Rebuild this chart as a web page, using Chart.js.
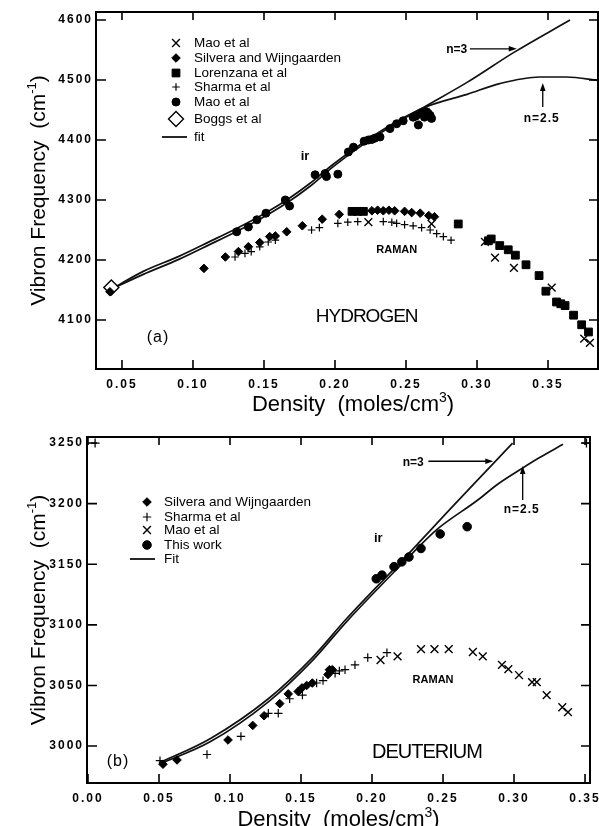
<!DOCTYPE html>
<html lang="en">
<head>
<meta charset="UTF-8">
<title>Vibron Frequency vs Density</title>
<style>
  html, body { margin: 0; padding: 0; background: #fff; overflow: hidden; }
  body { width: 599px; height: 826px; position: relative; }
  #panelA { position: absolute; left: 0; top: 0; }
  #panelB { position: absolute; left: 0; top: 430px; }
</style>
<script src="https://cdn.jsdelivr.net/npm/chart.js"></script>
</head>
<body>
<canvas id="panelA" width="599" height="430"></canvas>
<canvas id="panelB" width="599" height="410"></canvas>
<script>
// ---- panel (a) hydrogen : [density (moles/cm3), frequency (cm-1)] ----
var h2MaoRaman = [[0.2235,4263],[0.268,4260],[0.3056,4230],[0.3127,4204],[0.326,4187],[0.3526,4154],[0.3755,4069],[0.3795,4062]];
var h2Silvera = [[0.0415,4147],[0.1077,4186],[0.1228,4205],[0.132,4214],[0.139,4222],[0.147,4229],[0.154,4239],[0.158,4240],
  [0.166,4247],[0.177,4257],[0.191,4268],[0.203,4276],[0.226,4282],[0.230,4283],[0.234,4282],[0.238,4283],[0.242,4282],
  [0.249,4281],[0.254,4279],[0.260,4278],[0.266,4274],[0.270,4272]];
var h2Lorenzana = [[0.212,4281],[0.216,4281],[0.220,4281],[0.2868,4260],[0.308,4232],[0.310,4235],[0.316,4224],[0.322,4217],
  [0.327,4208],[0.3345,4192],[0.3437,4174],[0.3485,4148],[0.356,4130],[0.359,4127],[0.362,4124],[0.368,4108],[0.3737,4092],[0.3785,4080]];
var h2Sharma = [[0.1296,4205],[0.1366,4211],[0.141,4214],[0.147,4222],[0.153,4230],[0.158,4233],[0.1835,4250],[0.189,4254],
  [0.202,4261],[0.209,4263],[0.216,4264],[0.234,4264],[0.240,4263],[0.2434,4261],[0.249,4259],[0.255,4257],[0.261,4254],
  [0.267,4250],[0.2716,4244],[0.2763,4239],[0.2817,4233]];
var h2MaoIr = [[0.1308,4247],[0.139,4255],[0.145,4267],[0.1514,4278],[0.165,4300],[0.168,4290],[0.186,4342],[0.193,4344],
  [0.194,4339],[0.202,4343],[0.2094,4380],[0.213,4388],[0.2205,4398],[0.2235,4400],[0.226,4401],[0.228,4403],[0.2317,4405],
  [0.2387,4419],[0.2434,4427],[0.248,4432],[0.255,4438],[0.257,4440],[0.2587,4425],[0.261,4445],[0.263,4438],[0.2645,4447],
  [0.2657,4444],[0.267,4441],[0.268,4436]];
var h2Boggs = [[0.0425,4154]];
var h2FitN3 = [[0.043,4152],[0.065,4176],[0.090,4201],[0.112,4226],[0.131,4248],[0.147,4268],[0.166,4295],[0.182,4322],
  [0.199,4356],[0.222,4396],[0.246,4432],[0.265,4458],[0.293,4496],[0.326,4546],[0.3655,4600]];
var h2FitN25 = [[0.043,4152],[0.065,4181],[0.090,4206],[0.112,4231],[0.131,4253],[0.147,4273],[0.166,4300],[0.182,4327],
  [0.199,4360],[0.222,4399],[0.246,4434],[0.265,4456],[0.293,4476],[0.316,4494],[0.344,4505],[0.363,4505],[0.386,4499]];
var h2DensityTicks = [0.05,0.10,0.15,0.20,0.25,0.30,0.35];
var h2FreqTicks = [4100,4200,4300,4400,4500,4600];

// ---- panel (b) deuterium ----
var d2Silvera = [[0.0528,2985],[0.0627,2988.5],[0.0986,3005],[0.116,3017],[0.124,3025],[0.135,3035],[0.141,3043],[0.148,3045],
  [0.1507,3048],[0.154,3050],[0.158,3052],[0.169,3059],[0.170,3063],[0.172,3063]];
var d2Sharma = [[0.0507,2988],[0.0838,2993],[0.1077,3008],[0.127,3027],[0.134,3027],[0.142,3039],[0.151,3042],[0.161,3052],
  [0.1655,3054],[0.174,3060],[0.177,3062],[0.181,3063],[0.188,3067],[0.197,3073],[0.2105,3077]];
var d2Mao = [[0.206,3071],[0.218,3074],[0.2345,3080],[0.244,3080],[0.254,3080],[0.271,3077.6],[0.278,3074],[0.2915,3067],
  [0.296,3063.5],[0.3035,3058.6],[0.3127,3052.8],[0.316,3052.8],[0.323,3042],[0.334,3032],[0.338,3028]];
var d2ThisWork = [[0.203,3138],[0.207,3141],[0.2155,3148],[0.221,3152],[0.226,3156],[0.2345,3163],[0.248,3175],[0.267,3181]];
var d2FitN3 = [[0.05,2986],[0.086,3006],[0.127,3039],[0.158,3073],[0.182,3105],[0.2268,3160],[0.253,3193],[0.2845,3232],[0.299,3250]];
var d2FitN25 = [[0.05,2985],[0.086,3003.5],[0.127,3036.5],[0.158,3070.5],[0.182,3102.5],[0.2268,3157],[0.245,3178],[0.2745,3203],
  [0.2885,3216],[0.3056,3229],[0.318,3238],[0.3345,3249]];
var d2CornerMarks = [[0.005,3250],[0.351,3250]];
var d2DensityTicks = [0.00,0.05,0.10,0.15,0.20,0.25,0.30,0.35];
var d2FreqTicks = [3000,3050,3100,3150,3200,3250];

var FONT = "'Liberation Sans', Arial, Helvetica, sans-serif";

function pts(arr) {
  return arr.map(function(p) { return {x: p[0], y: p[1]}; });
}

function marks(label, arr, style, radius, lw, fill) {
  return {
    label: label, data: pts(arr), showLine: false, inLegend: !!label,
    pointStyle: style, pointRadius: radius, pointBorderWidth: lw,
    pointBackgroundColor: fill || '#000', pointBorderColor: '#000', order: 1
  };
}

function fitLine(label, arr) {
  return {
    label: label, data: pts(arr), showLine: true, inLegend: !!label,
    pointRadius: 0, borderColor: '#111', borderWidth: 1.7,
    cubicInterpolationMode: 'monotone', order: 10
  };
}

// legend markers, same shapes as the library's point styles
function drawMarker(ctx, style, x, y, r, lw, fill, line) {
  ctx.save();
  ctx.lineWidth = lw || 1;
  ctx.strokeStyle = '#000';
  ctx.fillStyle = fill || '#000';
  ctx.beginPath();
  if (style === 'circle') {
    ctx.arc(x, y, r, 0, Math.PI * 2);
    ctx.fill(); ctx.stroke();
  } else if (style === 'rect') {
    var s = r * Math.SQRT1_2;
    ctx.rect(x - s, y - s, 2 * s, 2 * s);
    ctx.fill(); ctx.stroke();
  } else if (style === 'rectRot') {
    ctx.moveTo(x - r, y); ctx.lineTo(x, y - r); ctx.lineTo(x + r, y); ctx.lineTo(x, y + r);
    ctx.closePath(); ctx.fill(); ctx.stroke();
  } else if (style === 'cross') {
    ctx.moveTo(x, y - r); ctx.lineTo(x, y + r); ctx.moveTo(x - r, y); ctx.lineTo(x + r, y);
    ctx.stroke();
  } else if (style === 'crossRot') {
    var d = r * Math.SQRT1_2;
    ctx.moveTo(x - d, y - d); ctx.lineTo(x + d, y + d); ctx.moveTo(x - d, y + d); ctx.lineTo(x + d, y - d);
    ctx.stroke();
  } else if (style === 'line') {
    ctx.lineWidth = 1.7;
    ctx.moveTo(x + line[0], y); ctx.lineTo(x + line[1], y);
    ctx.stroke();
  }
  ctx.restore();
}

// text with one superscript piece, centred on (cx, cy)
function drawSupText(ctx, main, sup, tail, cx, cy, size) {
  var big = size + "px " + FONT, small = Math.round(size * 0.62) + "px " + FONT;
  ctx.font = big;
  var w1 = ctx.measureText(main).width, w3 = ctx.measureText(tail).width;
  ctx.font = small;
  var w2 = ctx.measureText(sup).width;
  var x = cx - (w1 + w2 + w3) / 2, base = cy + size * 0.36;
  ctx.textAlign = 'left';
  ctx.textBaseline = 'alphabetic';
  ctx.font = big; ctx.fillText(main, x, base);
  ctx.font = small; ctx.fillText(sup, x + w1, base - size * 0.42);
  ctx.font = big; ctx.fillText(tail, x + w1 + w2, base);
}

function drawArrow(ctx, x1, y1, x2, y2) {
  var ang = Math.atan2(y2 - y1, x2 - x1), len = 8, half = 2.8;
  ctx.lineWidth = 1.3;
  ctx.beginPath();
  ctx.moveTo(x1, y1);
  ctx.lineTo(x2 - Math.cos(ang) * len * 0.8, y2 - Math.sin(ang) * len * 0.8);
  ctx.stroke();
  ctx.beginPath();
  ctx.moveTo(x2, y2);
  ctx.lineTo(x2 - Math.cos(ang) * len - Math.sin(ang) * half, y2 - Math.sin(ang) * len + Math.cos(ang) * half);
  ctx.lineTo(x2 - Math.cos(ang) * len + Math.sin(ang) * half, y2 - Math.sin(ang) * len - Math.cos(ang) * half);
  ctx.closePath();
  ctx.fill();
}

var paperPlugin = {
  id: 'paper',
  beforeDraw: function(chart) {
    chart.ctx.letterSpacing = '2px';   // wide tick numerals like the original
  },
  afterDraw: function(chart, args, opts) {
    var ctx = chart.ctx, a = chart.chartArea, xs = chart.scales.x, ys = chart.scales.y;
    ctx.save();
    ctx.letterSpacing = '0px';
    ctx.strokeStyle = '#000';
    ctx.fillStyle = '#000';

    // frame and inward ticks on all four sides
    ctx.lineWidth = 2;
    ctx.strokeRect(a.left, a.top, a.right - a.left, a.bottom - a.top);
    ctx.lineWidth = 1.6;
    ctx.beginPath();
    xs.ticks.forEach(function(t) {
      var px = xs.getPixelForValue(t.value);
      ctx.moveTo(px, a.bottom); ctx.lineTo(px, a.bottom - 9);
      ctx.moveTo(px, a.top); ctx.lineTo(px, a.top + 8);
    });
    ys.ticks.forEach(function(t) {
      var py = ys.getPixelForValue(t.value);
      ctx.moveTo(a.left, py); ctx.lineTo(a.left + 10, py);
      ctx.moveTo(a.right, py); ctx.lineTo(a.right - 9, py);
    });
    ctx.stroke();

    // axis titles
    ctx.save();
    ctx.translate(37, (a.top + a.bottom) / 2);
    ctx.rotate(-Math.PI / 2);
    drawSupText(ctx, 'Vibron Frequency  (cm', '-1', ')', 0, 0, 21);
    ctx.restore();
    drawSupText(ctx, 'Density  (moles/cm', '3', ')', (a.left + a.right) / 2 + opts.xTitleShift, opts.xTitleY, 22);

    // legend inside the plot
    var lg = opts.legend;
    ctx.font = lg.size + 'px ' + FONT;
    ctx.textAlign = 'left';
    ctx.textBaseline = 'middle';
    chart.data.datasets.filter(function(d) { return d.inLegend; }).forEach(function(d, i) {
      var x = a.left + lg.dx, y = a.top + lg.rows[i];
      if (d.showLine) drawMarker(ctx, 'line', x, y, 0, 1.7, '#000', lg.line);
      else drawMarker(ctx, d.pointStyle, x, y, d.pointRadius, d.pointBorderWidth, d.pointBackgroundColor);
      ctx.fillStyle = '#000';
      ctx.fillText(d.label, x + lg.gap, y + 0.5);
    });

    // text labels placed in data coordinates
    ctx.textAlign = 'center';
    ctx.textBaseline = 'middle';
    opts.labels.forEach(function(l) {
      ctx.font = l.font + ' ' + FONT;
      ctx.letterSpacing = (l.spacing || 0) + 'px';
      ctx.fillText(l.text, xs.getPixelForValue(l.x), ys.getPixelForValue(l.y));
    });
    ctx.letterSpacing = '0px';
    opts.arrows.forEach(function(ar) {
      drawArrow(ctx, xs.getPixelForValue(ar.from[0]), ys.getPixelForValue(ar.from[1]),
        xs.getPixelForValue(ar.to[0]), ys.getPixelForValue(ar.to[1]));
    });
    ctx.restore();
  }
};

function makeOptions(c) {
  var tickFont = {family: FONT, size: 12, weight: 'bold'};
  return {
    responsive: false,
    animation: false,
    events: [],
    layout: {padding: c.padding, autoPadding: false},
    plugins: {legend: {display: false}, tooltip: {enabled: false}, paper: c.paper},
    scales: {
      x: {
        type: 'linear', min: c.xMin, max: c.xMax,
        afterBuildTicks: function(s) { s.ticks = c.xTicks.map(function(v) { return {value: v}; }); },
        afterFit: function(s) { s.height = c.xHeight; s.paddingLeft = 0; s.paddingRight = 0; },
        grid: {display: false, drawTicks: false}, border: {display: false},
        ticks: {autoSkip: false, maxRotation: 0, padding: 8, color: '#000', font: tickFont,
          callback: function(v) { return Number(v).toFixed(2); }}
      },
      y: {
        type: 'linear', min: c.yMin, max: c.yMax,
        afterBuildTicks: function(s) { s.ticks = c.yTicks.map(function(v) { return {value: v}; }); },
        afterFit: function(s) { s.width = c.yWidth; s.paddingTop = 0; s.paddingBottom = 0; },
        grid: {display: false, drawTicks: false}, border: {display: false},
        ticks: {autoSkip: false, padding: 3, color: '#000', font: tickFont,
          callback: function(v) { return String(v); }}
      }
    }
  };
}

// (a) hydrogen
new Chart(document.getElementById('panelA'), {
  type: 'scatter',
  data: {
    datasets: [
      marks('Mao et al', h2MaoRaman, 'crossRot', 5.5, 1.4),
      marks('Silvera and Wijngaarden', h2Silvera, 'rectRot', 4.3, 1),
      marks('Lorenzana et al', h2Lorenzana, 'rect', 5.5, 1),
      marks('Sharma et al', h2Sharma, 'cross', 3.8, 1.2),
      marks('Mao et al', h2MaoIr, 'circle', 4, 1),
      marks('Boggs et al', h2Boggs, 'rectRot', 7.5, 1.4, '#fff'),
      fitLine('fit', h2FitN3),
      fitLine(null, h2FitN25)
    ]
  },
  options: makeOptions({
    padding: {top: 12, right: 1, left: 0, bottom: 0},
    xMin: 0.0317, xMax: 0.3852, xTicks: h2DensityTicks, xHeight: 61,
    yMin: 4018.3, yMax: 4613.3, yTicks: h2FreqTicks, yWidth: 96,
    paper: {
      xTitleY: 403, xTitleShift: 6,
      legend: {dx: 80, gap: 18, size: 13.5, rows: [31, 46, 61, 75, 90, 107, 125], line: [-14, 11]},
      labels: [
        {text: 'ir', x: 0.1789, y: 4372, font: 'bold 13px'},
        {text: 'RAMAN', x: 0.2435, y: 4217, font: 'bold 11px'},
        {text: 'HYDROGEN', x: 0.2223, y: 4105, font: '19px', spacing: -1},
        {text: '(a)', x: 0.0754, y: 4070, font: '16px', spacing: 1},
        {text: 'n=3', x: 0.2857, y: 4550, font: 'bold 12px'},
        {text: 'n=2.5', x: 0.3456, y: 4436, font: 'bold 12px', spacing: 1}
      ],
      arrows: [
        {from: [0.295, 4552], to: [0.328, 4552]},
        {from: [0.3463, 4455], to: [0.3463, 4495]}
      ]
    }
  }),
  plugins: [paperPlugin]
});

// (b) deuterium
new Chart(document.getElementById('panelB'), {
  type: 'scatter',
  data: {
    datasets: [
      marks('Silvera and Wijngaarden', d2Silvera, 'rectRot', 4.3, 1),
      marks('Sharma et al', d2Sharma, 'cross', 4.2, 1.2),
      marks('Mao et al', d2Mao, 'crossRot', 5.5, 1.4),
      marks('This work', d2ThisWork, 'circle', 4.3, 1),
      fitLine('Fit', d2FitN3),
      fitLine(null, d2FitN25),
      marks(null, d2CornerMarks, 'cross', 4.5, 1.3)
    ]
  },
  options: makeOptions({
    padding: {top: 7, right: 9, left: 0, bottom: 0},
    xMin: -0.0007, xMax: 0.3535, xTicks: d2DensityTicks, xHeight: 57,
    yMin: 2969.5, yMax: 3255, yTicks: d2FreqTicks, yWidth: 87,
    paper: {
      xTitleY: 388, xTitleShift: 0,
      legend: {dx: 60, gap: 17, size: 13.5, rows: [65, 80, 93, 108, 122], line: [-17, 8]},
      labels: [
        {text: 'ir', x: 0.2044, y: 3171, font: 'bold 13px'},
        {text: 'RAMAN', x: 0.243, y: 3054.5, font: 'bold 11px'},
        {text: 'DEUTERIUM', x: 0.2387, y: 2995, font: '20px', spacing: -1},
        {text: '(b)', x: 0.0211, y: 2987, font: '16px', spacing: 1},
        {text: 'n=3', x: 0.229, y: 3234, font: 'bold 12px'},
        {text: 'n=2.5', x: 0.3054, y: 3195, font: 'bold 12px', spacing: 1}
      ],
      arrows: [
        {from: [0.2397, 3235], to: [0.2854, 3235]},
        {from: [0.3061, 3203], to: [0.3061, 3231]}
      ]
    }
  }),
  plugins: [paperPlugin]
});
</script>
</body>
</html>
